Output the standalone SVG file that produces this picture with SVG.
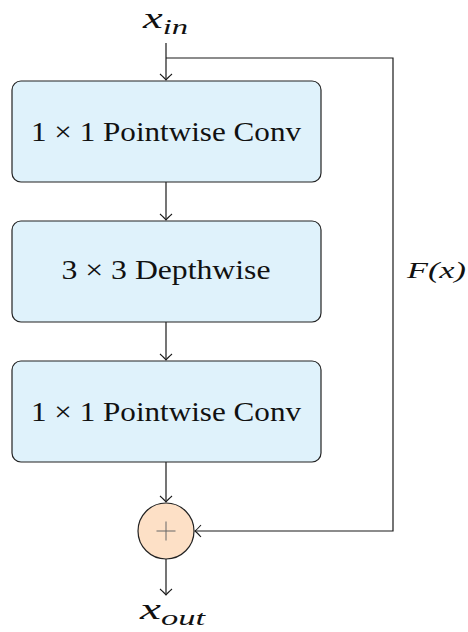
<svg xmlns="http://www.w3.org/2000/svg" width="468" height="632" viewBox="0 0 468 632">
<style>
.box{fill:#dff2fb;stroke:#222;stroke-width:1.2}
.lbl{font-family:"Liberation Serif","DejaVu Serif",serif;font-size:28px;fill:#111;text-anchor:middle}
.math{font-family:"Liberation Serif","DejaVu Serif",serif;font-style:italic;fill:#111}
.conn{fill:none;stroke:#1a1a1a;stroke-width:1.2}
</style>
<defs>
<marker id="arr" markerUnits="userSpaceOnUse" markerWidth="16" markerHeight="16" viewBox="-8 -8 16 16" refX="0" refY="0" orient="auto">
<path d="M -6,-6 Q -2,-1.5 0,0 Q -2,1.5 -6,6" fill="none" stroke="#1a1a1a" stroke-width="1.1"/>
</marker>
</defs>
<g id="connectors">
<line class="conn" x1="166" y1="43" x2="166" y2="80" marker-end="url(#arr)"/>
<line class="conn" x1="166" y1="182" x2="166" y2="220" marker-end="url(#arr)"/>
<line class="conn" x1="166" y1="322" x2="166" y2="360" marker-end="url(#arr)"/>
<line class="conn" x1="166" y1="462" x2="166" y2="502" marker-end="url(#arr)"/>
<line class="conn" x1="166" y1="559" x2="166" y2="595" marker-end="url(#arr)"/>
<polyline class="conn" points="166,58 393,58 393,531 195,531" marker-end="url(#arr)"/>
</g>
<g id="label-xin">
<text class="math" x="143" y="28" font-size="30" textLength="45" lengthAdjust="spacingAndGlyphs">x<tspan font-size="22" dy="6">in</tspan></text>
</g>
<g id="node-pw1">
<rect class="box" x="12" y="81" width="309" height="101" rx="9"/>
<text class="lbl" x="166" y="141" textLength="270" lengthAdjust="spacingAndGlyphs">1 × 1 Pointwise Conv</text>
</g>
<g id="node-dw">
<rect class="box" x="12" y="221" width="309" height="101" rx="9"/>
<text class="lbl" x="166" y="279" textLength="209" lengthAdjust="spacingAndGlyphs">3 × 3 Depthwise</text>
</g>
<g id="node-pw2">
<rect class="box" x="12" y="361" width="309" height="101" rx="9"/>
<text class="lbl" x="166" y="421" textLength="270" lengthAdjust="spacingAndGlyphs">1 × 1 Pointwise Conv</text>
</g>
<g id="node-add">
<circle cx="166" cy="531" r="28" fill="#fde0c6" stroke="#222" stroke-width="1.2"/>
<line x1="156.5" y1="531" x2="175.5" y2="531" stroke="#666" stroke-width="1"/>
<line x1="166" y1="521.5" x2="166" y2="540.5" stroke="#666" stroke-width="1"/>
</g>
<g id="label-fx">
<text class="math" x="407" y="278" font-size="24" textLength="59" lengthAdjust="spacingAndGlyphs">F(x)</text>
</g>
<g id="label-xout">
<text class="math" x="140" y="619" font-size="30" textLength="65" lengthAdjust="spacingAndGlyphs">x<tspan font-size="22" dy="6">out</tspan></text>
</g>
</svg>
